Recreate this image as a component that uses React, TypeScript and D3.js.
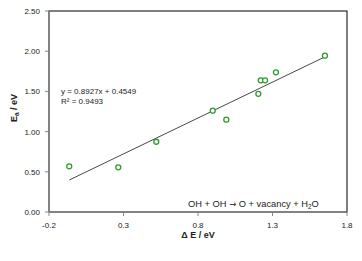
import React from "react";
import * as d3 from "d3";

const xValues = [-0.064, 0.265, 0.52, 0.899, 0.99, 1.205, 1.221, 1.25, 1.323, 1.652];
const yValues = [0.568, 0.556, 0.874, 1.26, 1.148, 1.47, 1.638, 1.638, 1.737, 1.944];
const xTicks = [-0.2, 0.3, 0.8, 1.3, 1.8];
const yTicks = [0, 0.5, 1.0, 1.5, 2.0, 2.5];
const slope = 0.8927;
const intercept = 0.4549;
const eqLabel = "y = 0.8927x + 0.4549";
const r2Label = "R² = 0.9493";

export default function App() {
  const W = 362, H = 261;
  const left = 49, right = 347, top = 11, bottom = 212;
  const x = d3.scaleLinear().domain([-0.2, 1.8]).range([left, right]);
  const y = d3.scaleLinear().domain([0, 2.5]).range([bottom, top]);
  const xMin = d3.min(xValues)!, xMax = d3.max(xValues)!;
  const line = d3.line<number>().x((d) => x(d)).y((d) => y(slope * d + intercept));
  const font = "'Liberation Sans', Arial, sans-serif";
  return (
    <svg width={W} height={H} style={{ position: "absolute", left: 0, top: 0, background: "#fff" }} fontFamily={font}>
      <rect x={left} y={top} width={right - left} height={bottom - top} fill="none" stroke="#000" strokeWidth={1} />
      <line x1={left} y1={top} x2={left} y2={bottom} stroke="#868686" strokeWidth={1} />
      <line x1={left} y1={bottom} x2={right} y2={bottom} stroke="#868686" strokeWidth={1} />
      {yTicks.map((t) => (
        <g key={"y" + t}>
          <line x1={left - 4} x2={left} y1={y(t)} y2={y(t)} stroke="#868686" />
          <text x={40} y={y(t) + 3} fontSize={8} textAnchor="end" fill="#222">{t.toFixed(2)}</text>
        </g>
      ))}
      {xTicks.map((t) => (
        <g key={"x" + t}>
          <line x1={x(t)} x2={x(t)} y1={bottom} y2={bottom + 4} stroke="#868686" />
          <text x={x(t)} y={228} fontSize={8} textAnchor="middle" fill="#222">{t.toFixed(1)}</text>
        </g>
      ))}
      <path d={line([xMin, xMax]) || ""} stroke="#333" strokeWidth={0.9} fill="none" />
      {xValues.map((v, i) => (
        <circle key={i} cx={x(v)} cy={y(yValues[i])} r={2.5} fill="#fff" stroke="#2f9a2f" strokeWidth={1.3} />
      ))}
      <text x={61} y={93.5} fontSize={8} fill="#222">{eqLabel}</text>
      <text x={61} y={103.5} fontSize={8} fill="#222">{r2Label}</text>
      <text x={188} y={206.5} fontSize={9.3} fill="#222">
        OH + OH <tspan fontFamily="'DejaVu Sans', sans-serif" fontSize={8.5}>→</tspan> O + vacancy + H<tspan fontSize={6.3} dy={2}>2</tspan><tspan dy={-2}>O</tspan>
      </text>
      <text x={198} y={237.5} fontSize={9} fontWeight="bold" textAnchor="middle" fill="#222">Δ E / eV</text>
      <text transform={`translate(16.5,108) rotate(-90)`} fontSize={9} fontWeight="bold" textAnchor="middle" fill="#222">
        E<tspan fontSize={6.5} dy={2}>a</tspan><tspan dy={-2}> / eV</tspan>
      </text>
    </svg>
  );
}
